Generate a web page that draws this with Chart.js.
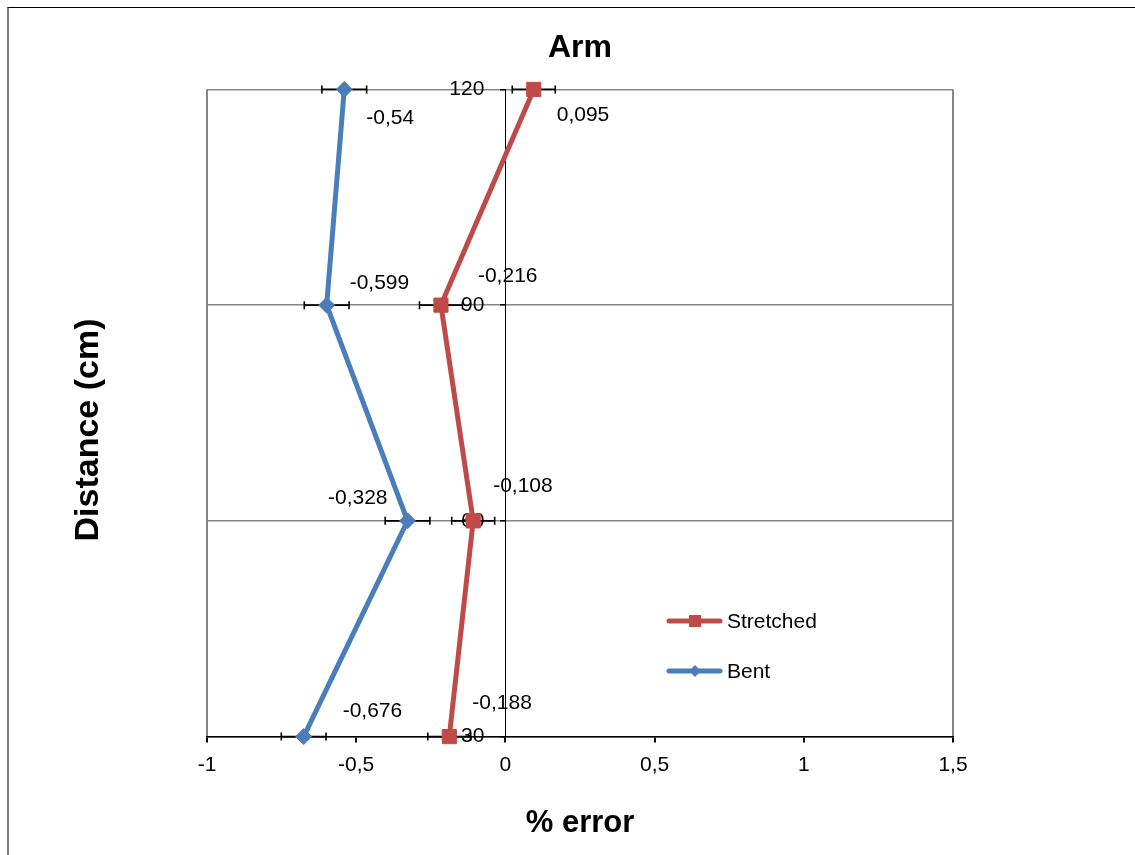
<!DOCTYPE html>
<html>
<head>
<meta charset="utf-8">
<script src="https://cdn.jsdelivr.net/npm/chart.js@4/dist/chart.umd.min.js"></script>
<style>
  html, body { margin: 0; padding: 0; background: #fff; overflow: hidden; }
  #wrap { position: relative; width: 1135px; height: 855px; }
  #frame { position: absolute; left: 7px; top: 7px; width: 1200px; height: 900px;
           border-left: 2px solid #7f7f7f; border-top: 1px solid #000; }
  canvas { position: absolute; left: 0; top: 0; }
</style>
</head>
<body>
<div id="wrap">
  <div id="frame"></div>
  <canvas id="chart" width="1135" height="855"></canvas>
</div>
<script>
// values
const distances = [120, 90, 60, 30];
const stretched = [0.095, -0.216, -0.108, -0.188];
const bent = [-0.54, -0.599, -0.328, -0.676];
const stretchedErr = [0.072, 0.072, 0.072, 0.072];
const bentErr = [0.075, 0.075, 0.075, 0.075];
const xTicks = [-1, -0.5, 0, 0.5, 1, 1.5];

const RED = '#BE4B48';
const BLUE = '#4A7EBB';
const FONT = "'Liberation Sans', Arial, sans-serif";

const comma = v => String(v).replace('.', ',');

// where each value label sits relative to its point (px)
const labelOffsets = {
  Stretched: [[23, 26, 'left'], [37, -29, 'left'], [20, -35, 'left'], [23, -33, 'left']],
  Bent: [[22, 29, 'left'], [23, -22, 'left'], [-20, -23, 'right'], [39, -25, 'left']],
};

const errorBars = {
  id: 'errorBars',
  beforeDatasetsDraw(chart) {
    const { ctx, scales: { x, y } } = chart;
    ctx.save();
    ctx.strokeStyle = '#000';
    ctx.lineWidth = 1.6;
    chart.data.datasets.forEach(ds => {
      ds.data.forEach((p, i) => {
        const e = ds.errors[i];
        const py = y.getPixelForValue(p.y);
        const x1 = x.getPixelForValue(p.x - e), x2 = x.getPixelForValue(p.x + e);
        ctx.beginPath();
        ctx.moveTo(x1, py); ctx.lineTo(x2, py);
        ctx.moveTo(x1, py - 4); ctx.lineTo(x1, py + 4);
        ctx.moveTo(x2, py - 4); ctx.lineTo(x2, py + 4);
        ctx.stroke();
      });
    });
    ctx.restore();
  }
};

const valueLabels = {
  id: 'valueLabels',
  afterDatasetsDraw(chart) {
    const { ctx, scales: { x, y } } = chart;
    ctx.save();
    ctx.font = '21px ' + FONT;
    ctx.fillStyle = '#000';
    ctx.textBaseline = 'middle';
    chart.data.datasets.forEach(ds => {
      ds.data.forEach((p, i) => {
        const [dx, dy, align] = labelOffsets[ds.label][i];
        ctx.textAlign = align;
        ctx.fillText(comma(p.x), x.getPixelForValue(p.x) + dx, y.getPixelForValue(p.y) + dy);
      });
    });
    ctx.restore();
  }
};

// legend sits inside the plot, lower right
const insideLegend = {
  id: 'insideLegend',
  afterDraw(chart) {
    const { ctx } = chart;
    ctx.save();
    chart.data.datasets.forEach((ds, i) => {
      const ly = 621 + i * 50;
      ctx.strokeStyle = ds.borderColor;
      ctx.lineWidth = 5;
      ctx.lineCap = 'round';
      ctx.beginPath(); ctx.moveTo(669, ly); ctx.lineTo(720, ly); ctx.stroke();
      ctx.fillStyle = ds.borderColor;
      if (ds.pointStyle === 'rect') {
        ctx.fillRect(689, ly - 6, 12, 12);
      } else {
        ctx.beginPath();
        ctx.moveTo(695, ly - 6); ctx.lineTo(701, ly); ctx.lineTo(695, ly + 6); ctx.lineTo(689, ly);
        ctx.closePath(); ctx.fill();
      }
      ctx.fillStyle = '#000';
      ctx.font = '21px ' + FONT;
      ctx.textAlign = 'left';
      ctx.textBaseline = 'middle';
      ctx.fillText(ds.label, 727, ly + 1);
    });
    ctx.restore();
  }
};

// y title drawn far left, away from the crossing axis
const yTitle = {
  id: 'yTitle',
  afterDraw(chart) {
    const { ctx } = chart;
    ctx.save();
    ctx.translate(89, 430);
    ctx.rotate(-Math.PI / 2);
    ctx.font = 'bold 34px ' + FONT;
    ctx.fillStyle = '#000';
    ctx.textAlign = 'center';
    ctx.textBaseline = 'middle';
    ctx.fillText('Distance (cm)', 0, 0);
    ctx.restore();
  }
};

new Chart(document.getElementById('chart'), {
  type: 'scatter',
  data: {
    datasets: [
      {
        label: 'Stretched',
        data: distances.map((d, i) => ({ x: stretched[i], y: d })),
        errors: stretchedErr,
        showLine: true,
        clip: false,
        borderColor: RED,
        backgroundColor: RED,
        borderWidth: 5,
        pointStyle: 'rect',
        pointRadius: 10,
        pointBorderWidth: 1,
      },
      {
        label: 'Bent',
        data: distances.map((d, i) => ({ x: bent[i], y: d })),
        errors: bentErr,
        showLine: true,
        clip: false,
        borderColor: BLUE,
        backgroundColor: BLUE,
        borderWidth: 5,
        pointStyle: 'rectRot',
        pointRadius: 8,
        pointBorderWidth: 1,
      },
    ],
  },
  options: {
    responsive: false,
    animation: false,
    devicePixelRatio: 1,
    layout: { padding: { left: 207, right: 182, top: 10, bottom: 8 } },
    plugins: {
      legend: { display: false },
      tooltip: { enabled: false },
      title: {
        display: true,
        text: 'Arm',
        color: '#000',
        font: { family: FONT, size: 32, weight: 'bold' },
        padding: { top: 19, bottom: 22 },
      },
    },
    scales: {
      x: {
        type: 'linear',
        min: -1,
        max: 1.5,
        afterBuildTicks: axis => { axis.ticks = xTicks.map(v => ({ value: v })); },
        ticks: { color: '#000', font: { family: FONT, size: 21 }, padding: 10, callback: v => comma(v) },
        grid: {
          color: c => (c.tick && (c.tick.value === -1 || c.tick.value === 1.5)) ? '#868686' : 'rgba(0,0,0,0)',
          tickColor: '#000',
          tickLength: 6,
          lineWidth: 2,
        },
        border: { color: '#000', width: 1.5 },
        title: {
          display: true,
          text: '% error',
          color: '#000',
          font: { family: FONT, size: 31, weight: 'bold' },
          padding: { top: 17, bottom: 5 },
        },
      },
      y: {
        type: 'linear',
        position: { x: 0 },
        min: 30,
        max: 120,
        // labels of a crossing axis are anchored on the axis line; the em space keeps them clear of it
        ticks: { stepSize: 30, color: '#000', font: { family: FONT, size: 21 }, callback: v => v + '\u2003' },
        grid: { color: '#868686', tickColor: '#000', tickLength: 5, lineWidth: 1.5 },
        border: { color: '#000', width: 1 },
      },
    },
  },
  plugins: [errorBars, valueLabels, insideLegend, yTitle],
});
</script>
</body>
</html>
